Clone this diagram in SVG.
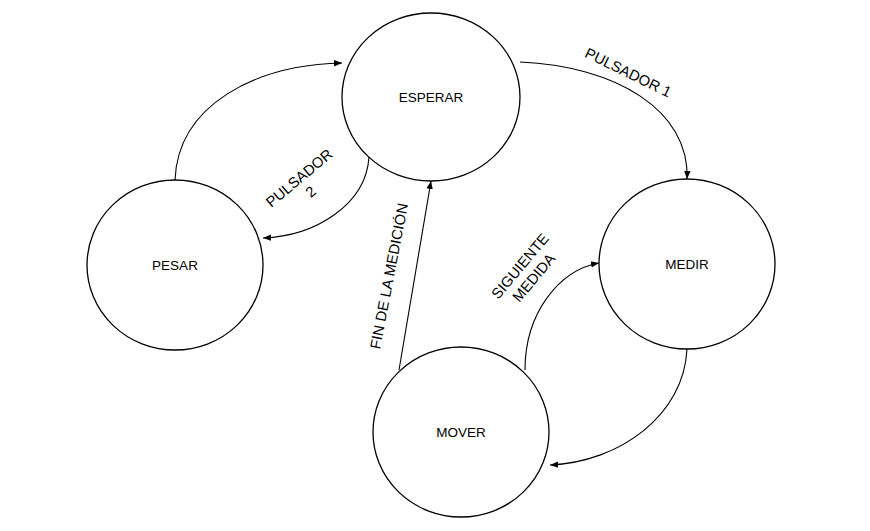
<svg xmlns="http://www.w3.org/2000/svg" width="870" height="531" viewBox="0 0 870 531">
<defs>
<style>
.node ellipse{fill:#fff;stroke:#000;stroke-width:1.3}
text{font-family:"Liberation Sans",Arial,sans-serif;font-size:13.5px;fill:#000}
.lbl text,text.lbl{font-size:14.8px}
.c path,.c line{fill:none;stroke:#000;stroke-width:1.1;marker-end:url(#ah)}
</style>
<marker id="ah" viewBox="0 0 10 10" refX="10" refY="5" markerWidth="8" markerHeight="8" markerUnits="userSpaceOnUse" orient="auto"><path d="M0,1 L10,5 L0,9 z" fill="#000"/></marker>
</defs>
<rect width="870" height="531" fill="#fff"/>
<g id="esperar" class="node"><ellipse cx="431" cy="97" rx="89" ry="84"/><text x="431" y="102" text-anchor="middle">ESPERAR</text></g>
<g id="pesar" class="node"><ellipse cx="175" cy="265" rx="88" ry="85"/><text x="175" y="270" text-anchor="middle">PESAR</text></g>
<g id="medir" class="node"><ellipse cx="687" cy="264" rx="88" ry="85"/><text x="687" y="269" text-anchor="middle">MEDIR</text></g>
<g id="mover" class="node"><ellipse cx="461" cy="432" rx="88" ry="85"/><text x="461" y="437" text-anchor="middle">MOVER</text></g>
<g id="connectors" class="c">
<path d="M175,180 C178,105 255,65 342,63"/>
<path d="M520,62 C615,66 690,110 687,179"/>
<path d="M369,157 C366,205 315,236 263,238"/>
<line x1="399" y1="370" x2="431" y2="181"/>
<path d="M525,370 C525,312 560,270 599,263"/>
<path d="M687,349 C684,415 620,462 550,465"/>
</g>
<g id="labels" class="lbl">
<text transform="translate(626,77) rotate(26)" text-anchor="middle">PULSADOR 1</text>
<g transform="translate(305,185) rotate(-40)"><text x="0" y="-4" text-anchor="middle">PULSADOR</text><text x="0" y="14" text-anchor="middle">2</text></g>
<text transform="translate(394,277) rotate(-79)" text-anchor="middle">FIN DE LA MEDICIÓN</text>
<g transform="translate(527,272) rotate(-50)"><text x="0" y="-4" text-anchor="middle">SIGUIENTE</text><text x="0" y="14" text-anchor="middle">MEDIDA</text></g>
</g>
</svg>
